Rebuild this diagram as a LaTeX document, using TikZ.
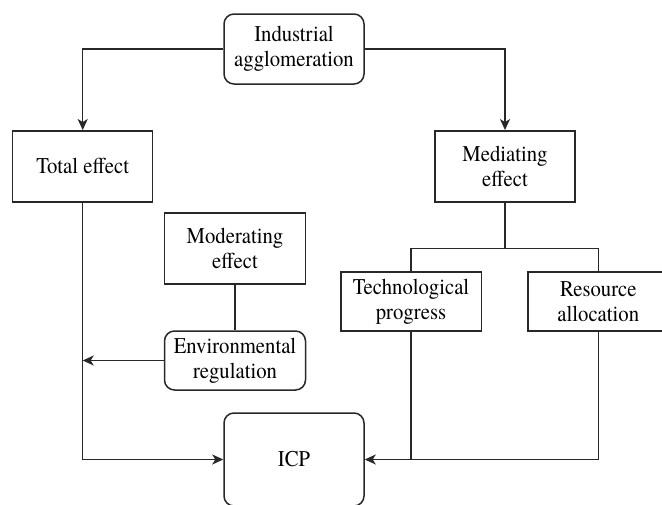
\documentclass[tikz,border=0pt]{standalone}
\usepackage{fontspec}
\setmainfont{texgyretermes-regular.otf}[FakeStretch=0.92]
\usetikzlibrary{arrows.meta}
\begin{document}
\begin{tikzpicture}[x=1pt,y=-1pt,
  box/.style={draw=linec,line width=1.5pt,align=center,inner sep=0pt,
    font=\fontsize{22.5}{25}\selectfont,text=black},
  rbox/.style={box,rounded corners=10pt},
  conn/.style={draw=linec,line width=1.5pt},
  arr/.style={conn,-{Stealth[length=11pt,width=10pt,inset=3pt]}}]
\definecolor{linec}{RGB}{40,40,40}
\useasboundingbox (0,0) rectangle (662,504);
\node[rbox,minimum width=140pt,minimum height=70pt] (ind) at (294,49) {Industrial\\agglomeration};
\node[box,minimum width=140pt,minimum height=71pt] (total) at (82.7,166.3) {Total effect};
\node[box,minimum width=140pt,minimum height=71pt] (med) at (505,166.3) {Mediating\\effect};
\node[box,minimum width=141pt,minimum height=71pt] (mod) at (235,248.5) {Moderating\\effect};
\node[rbox,minimum width=141pt,minimum height=59pt] (env) at (235,360.5) {Environmental\\regulation};
\node[box,minimum width=140.5pt,minimum height=59pt] (tech) at (411,301.5) {Technological\\progress};
\node[box,minimum width=141pt,minimum height=59pt] (res) at (598.3,301.5) {Resource\\allocation};
\node[rbox,minimum width=140pt,minimum height=93pt] (icp) at (294,459.5) {ICP};
\coordinate (br) at (505,248.7);
\draw[arr] (ind.west) -| (total.north);
\draw[arr] (ind.east) -| (med.north);
\draw[arr] (total.south) |- (icp.west);
\draw[arr] (env.west) -- (env.west -| total.south);
\draw[conn] (mod.south) -- (env.north);
\draw[conn] (med.south) -- (br);
\draw[conn] (tech.north) |- (br) -| (res.north);
\draw[arr] (res.south) |- (icp.east);
\draw[conn] (tech.south) -- (tech.south |- icp.east);
\end{tikzpicture}
\end{document}
